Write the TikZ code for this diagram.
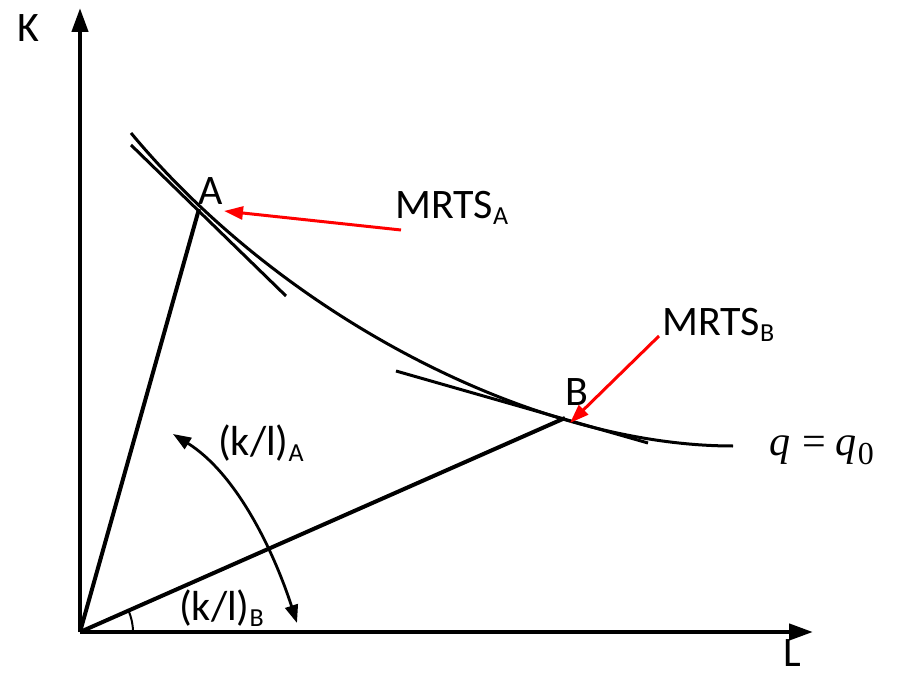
\documentclass[tikz,border=0pt]{standalone}
\usepackage{fontspec}
\setmainfont{Carlito}
\newfontfamily\tnr{Liberation Serif}
\usetikzlibrary{arrows.meta,angles}
\newcommand\lowsub[1]{\raisebox{-6pt}{\fontsize{26}{26}\selectfont #1}}
\begin{document}
\begin{tikzpicture}[x=1pt,y=-1pt,
  axis/.style={line width=4.3pt,-{Triangle[length=24pt,width=16pt]}},
  ray/.style={line width=4pt},
  thin curve/.style={line width=3pt},
  redarrow/.style={red,line width=3pt,-{Triangle[length=19pt,width=13pt]}},
  lbl/.style={inner sep=0pt,font=\fontsize{42}{42}\selectfont}]
\useasboundingbox (0,0) rectangle (898,677);
% points
\coordinate (O) at (80,632);
\coordinate (Ytip) at (80,8);
\coordinate (Xtip) at (813,632);
\coordinate (A) at (199,209);
\coordinate (B) at (565,418);
\coordinate (C1) at (131,133);
\coordinate (C2) at (733,446);
\coordinate (TA1) at (131,145);
\coordinate (TA2) at (286,296);
\coordinate (TB1) at (396,371);
\coordinate (TB2) at (648,443);
\coordinate (RA) at (401,230);
\coordinate (RAt) at (224,211);
\coordinate (RB) at (659,336);
\coordinate (RBt) at (570,423);
\coordinate (D1) at (173,434);
\coordinate (D2) at (297,623);
% axes
\draw[axis] (O) -- (Ytip);
\draw[axis] (O) -- (Xtip);
% isoquant
\draw[thin curve] (C1) .. controls (283,316) and (533,446) .. (C2);
% tangents
\draw[thin curve] (TA1) -- (TA2);
\draw[thin curve] (TB1) -- (TB2);
% rays
\draw[ray] (O) -- (A);
\draw[ray] (O) -- (B);
% red arrows
\draw[redarrow] (RA) -- (RAt);
\draw[redarrow] (RB) -- (RBt);
% double curved arrow
\draw[line width=2.8pt,{Triangle[length=18pt,width=13pt]}-{Triangle[length=18pt,width=13pt]}]
  (D1) .. controls (237,474) and (274,552) .. (D2);
% angle
\pic[draw,line width=2pt,angle radius=53pt] {angle=Xtip--O--B};
% labels
\node[lbl] (K) at (28,28) {K};
\node[lbl] (L) at (792,653) {L};
\node[lbl] (Alab) at (211,191) {A};
\node[lbl] (Blab) at (577,392) {B};
\node[lbl,anchor=base west] (MA) at (395,218) {MRTS\lowsub{A}};
\node[lbl,anchor=base west] (MB) at (662,335) {MRTS\lowsub{B}};
\node[lbl,anchor=base west] (KLA) at (218,455) {(k/l)\lowsub{A}};
\node[lbl,anchor=base west] (KLB) at (179,620) {(k/l)\lowsub{B}};
\node[inner sep=0pt,anchor=base west,font=\tnr\fontsize{42}{42}\selectfont] (Q) at (769,455)
  {\textit{q}\hspace{12pt}=\hspace{10pt}\textit{q}\hspace{1pt}\raisebox{-9pt}{\fontsize{32}{32}\selectfont 0}};
\end{tikzpicture}
\end{document}
